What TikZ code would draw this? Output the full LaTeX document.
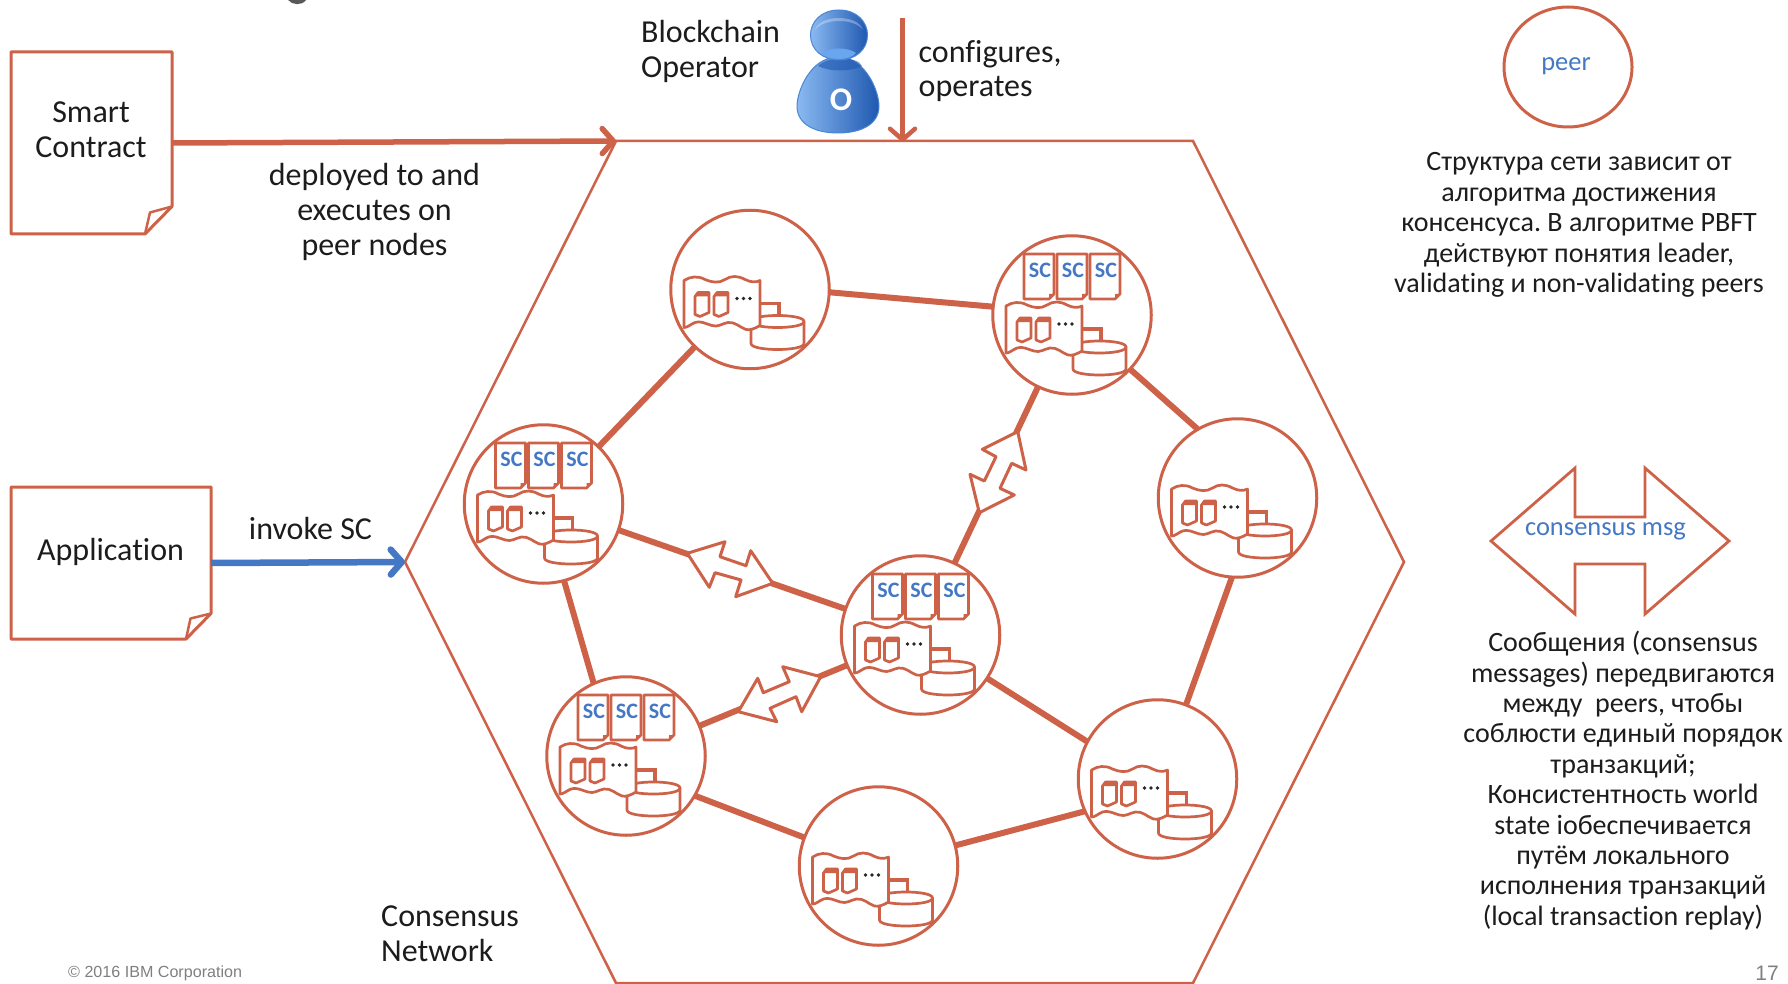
\documentclass[tikz,border=0pt]{standalone}
\usepackage{fontspec}
\setmainfont[Ligatures=CommonOff]{Carlito}
\newfontfamily\arialfont{Liberation Sans}
\usetikzlibrary{arrows.meta}
\definecolor{rust}{HTML}{CD6248}
\definecolor{azure}{HTML}{4478C4}
\definecolor{inktext}{HTML}{1C1C1C}
\definecolor{footgrey}{HTML}{7F7F7F}
\definecolor{figlight}{HTML}{8ABAF2}
\definecolor{figmid}{HTML}{6BA2E8}
\definecolor{figdark}{HTML}{1F58B0}
\definecolor{figrim}{HTML}{4A86D4}
\definecolor{figglow}{HTML}{6AA5F0}
\newcommand{\fsz}[2]{\fontsize{#1pt}{#2pt}\selectfont}
\frenchspacing
\tikzset{
  x=1pt,y=-1pt,
  peernode/.style={circle,draw=rust,line width=3pt,fill=white,minimum size=158.5pt,inner sep=0pt,outer sep=0pt},
  conn/.style={draw=rust,line width=6pt},
  thin rust/.style={draw=rust,line width=2.7pt,line join=round},
  lbl/.style={text=inktext,align=center,inner sep=0pt,font=\fsz{32}{34.8}},
  lbll/.style={text=inktext,align=left,inner sep=0pt,font=\fsz{32}{34.8}},
  note/.style={text=inktext,align=center,inner sep=0pt,font=\fsz{28}{30.4}},
  bluetxt/.style={text=azure,inner sep=0pt,font=\fsz{26.5}{30}},
  docbox/.style={inner sep=0pt,outer sep=0pt},
  msgarrow/.style={thin rust,fill=white,line width=3pt},
  bigarrow/.style={-{Straight Barb[length=11pt,width=25pt,round]}},
  pics/ledger/.style={code={
    \draw[thin rust,fill=white] (1,32) -- (1,54) .. controls (1,62) and (54,62) .. (54,54) -- (54,32) .. controls (54,24) and (1,24) .. (1,32) -- cycle;
    \draw[thin rust] (1,32) .. controls (1,40) and (54,40) .. (54,32);
    \draw[rust,line width=3.5pt] (8,14) -- (29,14) -- (29,26);
    \draw[thin rust,fill=white] (-66,-9) .. controls (-60,-13) and (-52,-14) .. (-45,-10) .. controls (-38,-7) and (-31,-6) .. (-25,-10) .. controls (-19,-14) and (-12,-14) .. (-5,-10) .. controls (1,-7) and (6,-7) .. (10,-9) -- (10,36) .. controls (5,39) and (0,41) .. (-4,40) .. controls (-10,38) and (-15,32) .. (-22,33) .. controls (-28,34) and (-32,38) .. (-38,36) .. controls (-45,34) and (-50,31) .. (-55,33) .. controls (-60,35) and (-62,38) .. (-66,38) -- cycle;
    \foreach \dx in {0,19}{
      \draw[thin rust,fill=white] (-55+\dx,7) -- (-52+\dx,3) -- (-41+\dx,3) -- (-41+\dx,23) -- (-50+\dx,27) -- (-55+\dx,25) -- cycle;
      \fill[rust] (-55+\dx,7) -- (-52+\dx,3) -- (-41+\dx,3) -- (-41+\dx,7) -- cycle;
    }
    \foreach \dx in {-13,-6.5,0}{\fill[black!85] (\dx,9) circle (1.8pt);}
  }},
  pics/scdocs/.style={code={
    \foreach \dx in {-48,-15,18}{
      \draw[thin rust,fill=white] (\dx,-61) -- (\dx+30,-61) -- (\dx+30,-21) -- (\dx+25,-16) -- (\dx,-16) -- cycle;
      \fill[rust] (\dx+30,-21) -- (\dx+25,-16) -- (\dx+25,-21) -- cycle;
      \node[text=azure,inner sep=0pt,font=\fsz{22}{22}\bfseries] at (\dx+16,-45) {SC};
    }
  }}
}
\begin{document}
\begin{tikzpicture}
\useasboundingbox (0,0) rectangle (1788,984);
% remnant of the cut-off title
\fill[black!65] (288,0) .. controls (292,5) and (302,6) .. (306,0) -- cycle;

% hexagon
\coordinate (hexTL) at (616,141);
\coordinate (hexTR) at (1193,141);
\coordinate (hexR) at (1404,562);
\coordinate (hexBR) at (1193,983);
\coordinate (hexBL) at (616,983);
\coordinate (hexL) at (405,562);
\draw[rust,line width=2.5pt,line join=miter] (hexTL) -- (hexTR) -- (hexR) -- (hexBR) -- (hexBL) -- (hexL) -- cycle;

% documents
\node[docbox,minimum width=161pt,minimum height=182pt] (sc) at (91.5,143) {};
\draw[rust,line width=3pt,line join=round] (11,52) -- (172,52) -- (172,206.5) -- (145,234) -- (11,234) -- cycle;
\draw[rust,line width=2.5pt,line join=round] (172,206.5) -- (150,212.5) -- (145,234);
\node[docbox,minimum width=200pt,minimum height=152pt] (app) at (111,563) {};
\draw[rust,line width=3pt,line join=round] (11,487) -- (211,487) -- (211,613.5) -- (186,639) -- (11,639) -- cycle;
\draw[rust,line width=2.5pt,line join=round] (211,613.5) -- (190.5,618.5) -- (186,639);
\node[lbl] (sctext) at (91,130) {Smart\\Contract};
\node[lbl] (apptext) at (110.6,552) {Application};

% main arrows
\draw[bigarrow,rust,line width=5.5pt] (sc.east) -- (hexTL);
\draw[bigarrow,azure,line width=6.5pt] (app.east) -- (hexL);
\coordinate (opTop) at (902.5,18);
\coordinate (opBot) at (902.5,142);
\draw[bigarrow,rust,line width=4.5pt] (opTop) -- (opBot);

\node[lbl] (deploy) at (374.5,212) {deployed to and\\executes on\\peer nodes};
\node[lbl] (invoke) at (310.5,528.5) {invoke SC};
\node[lbll,anchor=west] (bop) at (641,51.5) {Blockchain\\Operator};
\node[lbll,anchor=west] (conf) at (918.5,71) {configures,\\operates};
\node[lbll,anchor=west] (cnet) at (381,934) {Consensus\\Network};

% operator figure
\shade[left color=figlight,middle color=figmid,right color=figdark,draw=figrim,line width=1pt] (838,57) .. controls (866,57) and (879,92) .. (879,106) .. controls (879,125) and (860,133) .. (838,133) .. controls (816,133) and (797,125) .. (797,106) .. controls (797,92) and (810,57) .. (838,57) -- cycle;
\fill[figdark,opacity=.6] (818,66) .. controls (828,56) and (858,56) .. (862,66) .. controls (850,72) and (830,72) .. (818,66) -- cycle;
\shade[left color=figlight,middle color=figmid,right color=figdark,draw=figrim,line width=1pt] (839,10) .. controls (857,10) and (867.5,22) .. (867.5,35) .. controls (867.5,50) and (855,60) .. (839,60) .. controls (823,60) and (810.5,50) .. (810.5,35) .. controls (810.5,22) and (821,10) .. (839,10) -- cycle;
\fill[figglow] (822,53) .. controls (830,47) and (848,47) .. (856,53) .. controls (850,61) and (828,61) .. (822,53) -- cycle;
\fill[white,opacity=.3] (815,30) .. controls (820,14) and (858,14) .. (863,30) .. controls (855,18) and (823,18) .. (815,30) -- cycle;
\node[text=white,inner sep=0pt,font=\fsz{33}{33}\bfseries] (opo) at (841,100) {O};

% peers
\node[peernode] (A) at (750,289.5) {};
\node[peernode] (B) at (1072,315) {};
\node[peernode] (C) at (1237.5,498) {};
\node[peernode] (D) at (543.5,504) {};
\node[peernode] (E) at (920.5,635) {};
\node[peernode] (F) at (626,756) {};
\node[peernode] (G) at (1157.5,779) {};
\node[peernode] (H) at (878.5,866) {};
\foreach \p in {A,B,C,D,E,F,G,H}{\pic at (\p) {ledger};}
\foreach \p in {B,D,E,F}{\pic at (\p) {scdocs};}

% connectors
\draw[conn] (A.-2) -- (B.174);
\draw[conn] (A) -- (D);
\draw[conn] (B.-43) -- (C.120);
\draw[conn] (C.-94) -- (G.69);
\draw[conn] (E.-33) -- (G.152);
\draw[conn] (G.204) -- (H.15);
\draw[conn] (H.159) -- (F.-30);
\draw[conn] (F.114) -- (D.-75);
\draw[conn] (D) -- (E);
\draw[conn] (F) -- (E);
\draw[conn] (E) -- (B);

% consensus message arrows
\draw[msgarrow] (687.3,553.3) -- (725,541.7) -- (720,556.7) -- (746,565.7) -- (750.7,550.7) -- (772.7,583.3) -- (735.7,596.7) -- (741,580) -- (715,572.7) -- (709.3,587.3) -- cycle;
\draw[msgarrow] (738.3,711.7) -- (757.7,678.3) -- (763.3,692.7) -- (789.3,681.7) -- (782.7,666.7) -- (820.7,676.7) -- (801.7,711.7) -- (796,696.7) -- (770,708.3) -- (776.7,721.7) -- cycle;
\draw[msgarrow] (1017.7,431.7) -- (1026,470) -- (1011.7,463.3) -- (1000,488.3) -- (1014.3,495) -- (979.3,512.7) -- (970,474.3) -- (984.3,481) -- (996,456.7) -- (982.3,449.3) -- cycle;

% legend
\draw[rust,line width=3pt] (1568,67) ellipse (64pt and 60pt);
\node[bluetxt] (peerlbl) at (1566,66) {peer};
\node[note] (n1) at (1579,225) {Структура сети зависит от\\алгоритма достижения\\консенсуса. В алгоритме PBFT\\действуют понятия leader,\\validating и non-validating peers};
\draw[rust,line width=2.8pt,line join=miter] (1491,541) -- (1575,468) -- (1575,517) -- (1645,517) -- (1645,468) -- (1729,541) -- (1645,614) -- (1645,564) -- (1575,564) -- (1575,614) -- cycle;
\node[bluetxt] (msg) at (1605.5,531.5) {consensus msg};
\node[note] (n2) at (1623,780.5) {Сообщения (consensus\\messages) передвигаются\\между\ \ peers, чтобы\\соблюсти единый порядок\\транзакций;\\Консистентность world\\state iобеспечивается\\путём локального\\исполнения транзакций\\(local transaction replay)};

% footer
\node[text=footgrey,inner sep=0pt,anchor=west,font=\arialfont\fsz{16.1}{18}] (copy) at (68,973) {© 2016 IBM Corporation};
\node[text=footgrey,inner sep=0pt,font=\arialfont\fsz{21}{24}] (pg) at (1767,973) {17};
\end{tikzpicture}
\end{document}
